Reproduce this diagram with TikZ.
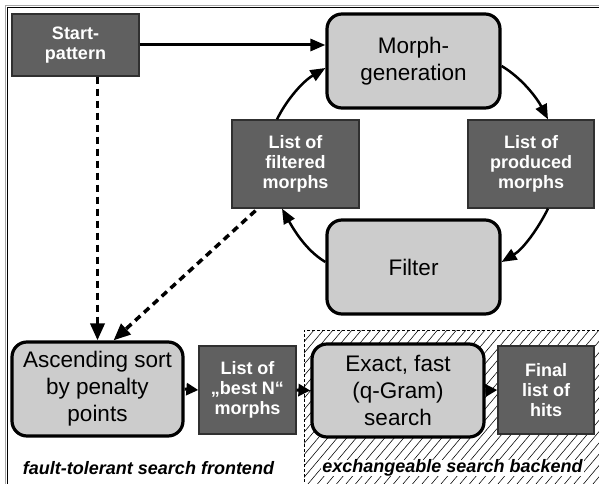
\documentclass[tikz,border=0pt]{standalone}
\usepackage{fontspec}
\setmainfont{Liberation Sans}
\usetikzlibrary{arrows.meta,calc}

\definecolor{darkbox}{HTML}{606060}
\definecolor{darkedge}{HTML}{303030}
\definecolor{lightbox}{HTML}{CCCCCC}

\tikzset{
  listbox/.style={draw=darkedge, line width=1.3pt, fill=darkbox, text=white,
    font=\fontsize{18}{20}\selectfont\bfseries, align=center, inner sep=0pt},
  stagebox/.style={draw=black, line width=3.2pt, fill=lightbox, rounded corners=15pt,
    font=\fontsize{22.5}{27}\selectfont, align=center, inner sep=0pt},
  tip/.style={-{Triangle[length=15pt,width=12pt]}},
  smalltip/.style={-{Triangle[length=12pt,width=12pt]}},
  flow/.style={tip, line width=3pt},
  cycle/.style={tip, line width=2.5pt},
  seed/.style={-{Triangle[length=17pt,width=14pt]}, line width=3.5pt,
    dash pattern=on 7pt off 5pt},
  zonelabel/.style={font=\fontsize{18}{20}\selectfont\bfseries\itshape, inner sep=0pt},
}

\begin{document}
\begin{tikzpicture}[x=1pt,y=-1pt]
\useasboundingbox (0,0) rectangle (599,484);
\fill[white] (0,0) rectangle (599,484);

% outer frame (runs off the page to the right and bottom)
\draw[gray!70, line width=0.8pt] (5.3,520) -- (5.3,5.3) -- (640,5.3);
\draw[black, line width=1.2pt] (7.7,520) -- (7.7,7.7) -- (640,7.7);

% exchangeable backend zone: hatched, dashed outline
\begin{scope}
  \clip (304,330) rectangle (620,500);
  \foreach \i in {-20,...,40}
    \draw[line width=0.55pt] ({304+9.5*\i},500) -- ({304+9.5*\i+143},330);
\end{scope}
\draw[line width=1pt, dash pattern=on 3pt off 2pt] (620,330) -- (304,330) -- (304,500);

% nodes
\node[listbox, minimum width=127pt, minimum height=62pt] (start) at (75.5,45) {Start-\\pattern};
\node[stagebox, minimum width=173pt, minimum height=94pt] (gen) at (413.5,61) {Morph-\\generation};
\node[listbox, minimum width=127pt, minimum height=88pt] (filt) at (295.5,164) {List of\\filtered\\morphs};
\node[listbox, minimum width=126pt, minimum height=88pt] (prod) at (531,164) {List of\\produced\\morphs};
\node[stagebox, minimum width=173pt, minimum height=94pt] (filter) at (413.5,267) {Filter};
\node[stagebox, minimum width=171pt, minimum height=94pt] (sort) at (97.5,389) {Ascending sort\\by penalty\\points};
\node[listbox, minimum width=97pt, minimum height=88pt] (best) at (247.5,390) {List of\\„best N“\\morphs};
\node[stagebox, minimum width=172pt, minimum height=93pt] (exact) at (398,390.5) {Exact, fast\\(q-Gram)\\search};
\node[listbox, minimum width=96pt, minimum height=88pt] (final) at (546,390) {Final\\list of\\hits};

\node[zonelabel] (front) at (148.5,468) {fault-tolerant search frontend};
\node[zonelabel, fill=white, inner xsep=1pt, inner ysep=0pt] (back) at (452.5,468) {exchangeable search backend};

% start pattern feeds the generator
\draw[flow] (start.east) -- (start.east -| gen.west);

% generation / filter cycle
\draw[cycle] ($(filt.north)+(-18.5,0)$) .. controls +(10.2,-20.7) and +(-22.1,13.1) .. ($(gen.west)+(0,7)$);
\draw[cycle] ($(gen.east)+(0,5)$) .. controls +(21.4,12.7) and +(-10.3,-19.9) .. ($(prod.north)+(17,0)$);
\draw[cycle] ($(prod.south)+(17,0)$) .. controls +(-10.1,20.3) and +(21.6,-13.0) .. ($(filter.east)+(0,-5)$);
\draw[cycle] ($(filter.west)+(0,-5)$) .. controls +(-20.3,-12.0) and +(10.4,18.6) .. ($(filt.south)+(-13.5,0)$);

% candidates into the sort
\draw[seed] (sort.north |- start.south) -- (sort.north);
\draw[seed] ($(filt.south)+(-40,2)$) -- ($(sort.north)+(16,0)$);

% pipeline along the bottom
\draw[smalltip, line width=3pt] (sort.east) -- (best.west);
\draw[smalltip, line width=3pt] (best.east) -- (exact.west);
\draw[smalltip, line width=3pt] (exact.east) -- (final.west);
\end{tikzpicture}
\end{document}
